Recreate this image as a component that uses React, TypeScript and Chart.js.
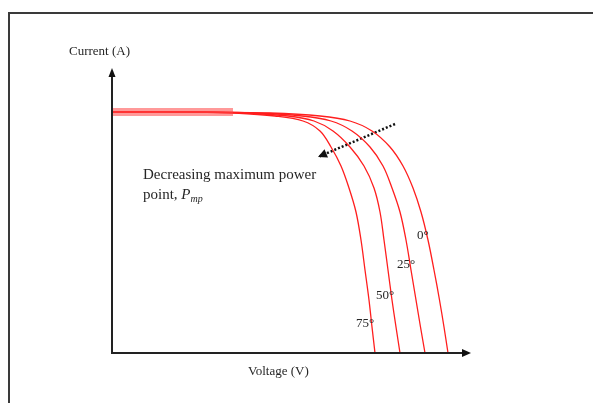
import React, { useEffect, useRef } from "react";
import { Chart, registerables } from "chart.js";

Chart.register(...registerables);

// Current levels (A, arbitrary units) shared by the four I-V curves
const currentLevels = [24.1, 24.1, 24.0, 23.7, 23.2, 22.2, 20.6, 18.7, 16.5, 14.1, 11.3, 8.3, 5.3, 2.6, 0];
// Voltage (V, arbitrary units) of each curve at those current levels
const volt0 = [0, 8.8, 15.8, 20.8, 23.8, 26.0, 27.8, 29.1, 30.1, 30.9, 31.6, 32.2, 32.75, 33.2, 33.6];
const volt25 = [0, 8.8, 14.3, 19.0, 21.9, 24.0, 25.8, 27.1, 28.0, 28.8, 29.4, 29.9, 30.4, 30.85, 31.3];
const volt50 = [0, 8.8, 13.3, 17.6, 20.2, 22.1, 23.8, 25.2, 26.2, 26.8, 27.2, 27.6, 28.0, 28.4, 28.8];
const volt75 = [0, 8.3, 12.3, 16.3, 19.1, 20.8, 21.9, 22.9, 23.7, 24.4, 24.9, 25.3, 25.7, 26.0, 26.3];
const curveLabels = ["0°", "25°", "50°", "75°"];
const bandV = [0, 12.1];
const bandI = [24.1, 24.1];
const arrowV = [28.3, 20.6];
const arrowI = [22.9, 19.6];
const xMax = 35.9;
const yMax = 28.5;

const toPts = (xs: number[], ys: number[]) => xs.map((x, i) => ({ x, y: ys[i] }));

const SERIF = '"Liberation Serif", "DejaVu Serif", serif';

const overlay = {
  id: "overlay",
  beforeDraw(chart: any) {
    const ctx = chart.ctx;
    ctx.save();
    ctx.fillStyle = "#ffffff";
    ctx.fillRect(0, 0, chart.width, chart.height);
    ctx.strokeStyle = "#3a3a3a";
    ctx.lineWidth = 2;
    ctx.beginPath();
    ctx.moveTo(9, chart.height + 5);
    ctx.lineTo(9, 13);
    ctx.lineTo(chart.width + 5, 13);
    ctx.stroke();
    ctx.restore();
  },
  afterDatasetsDraw(chart: any) {
    const ctx = chart.ctx;
    const xs = chart.scales.x;
    const ys = chart.scales.y;
    const a = chart.chartArea;
    const px = (v: number) => xs.getPixelForValue(v);
    const py = (v: number) => ys.getPixelForValue(v);
    ctx.save();
    // axes
    ctx.strokeStyle = "#222";
    ctx.fillStyle = "#111";
    ctx.lineWidth = 2;
    ctx.beginPath();
    ctx.moveTo(a.left, a.top + 4);
    ctx.lineTo(a.left, a.bottom);
    ctx.lineTo(a.right - 4, a.bottom);
    ctx.stroke();
    ctx.beginPath();
    ctx.moveTo(a.left, a.top);
    ctx.lineTo(a.left - 3.5, a.top + 9);
    ctx.lineTo(a.left + 3.5, a.top + 9);
    ctx.closePath();
    ctx.fill();
    ctx.beginPath();
    ctx.moveTo(a.right, a.bottom);
    ctx.lineTo(a.right - 9, a.bottom - 4);
    ctx.lineTo(a.right - 9, a.bottom + 4);
    ctx.closePath();
    ctx.fill();
    // dotted arrow head
    const x1 = px(arrowV[0]), y1 = py(arrowI[0]);
    const x2 = px(arrowV[1]), y2 = py(arrowI[1]);
    const ang = Math.atan2(y2 - y1, x2 - x1);
    ctx.beginPath();
    ctx.moveTo(x2, y2);
    ctx.lineTo(x2 - 9 * Math.cos(ang) + 4.5 * Math.sin(ang), y2 - 9 * Math.sin(ang) - 4.5 * Math.cos(ang));
    ctx.lineTo(x2 - 9 * Math.cos(ang) - 4.5 * Math.sin(ang), y2 - 9 * Math.sin(ang) + 4.5 * Math.cos(ang));
    ctx.closePath();
    ctx.fill();
    // texts
    ctx.fillStyle = "#262626";
    ctx.textBaseline = "middle";
    ctx.textAlign = "left";
    ctx.font = `13px ${SERIF}`;
    ctx.fillText("Current (A)", px(-4.3), py(30.1));
    ctx.fillText("Voltage (V)", px(13.6), py(-1.9));
    const labelPos = [
      [30.5, 11.7],
      [28.5, 8.8],
      [26.4, 5.7],
      [24.4, 2.9],
    ];
    curveLabels.forEach((t, i) => ctx.fillText(t, px(labelPos[i][0]), py(labelPos[i][1])));
    ctx.font = `15px ${SERIF}`;
    ctx.fillText("Decreasing maximum power", px(3.1), py(17.8));
    let tx = px(3.1);
    const ty = py(15.8);
    ctx.fillText("point, ", tx, ty);
    tx += ctx.measureText("point, ").width;
    ctx.font = `italic 15px ${SERIF}`;
    ctx.fillText("P", tx, ty);
    tx += ctx.measureText("P").width;
    ctx.font = `italic 10px ${SERIF}`;
    ctx.fillText("mp", tx, ty + 4);
    ctx.restore();
  },
};

export default function App() {
  const ref = useRef<HTMLCanvasElement | null>(null);
  useEffect(() => {
    document.body.style.margin = "0";
    const red = "rgb(255,30,30)";
    const lineDs = (label: string, xs: number[]) => ({
      label,
      data: toPts(xs, currentLevels),
      borderColor: red,
      borderWidth: 1.3,
      pointRadius: 0,
      showLine: true,
      tension: 0.35,
      clip: false as any,
    });
    const chart = new Chart(ref.current as HTMLCanvasElement, {
      type: "scatter",
      data: {
        datasets: [
          {
            label: "band",
            data: toPts(bandV, bandI),
            borderColor: "rgba(255,70,70,0.55)",
            borderWidth: 8,
            pointRadius: 0,
            showLine: true,
            clip: false as any,
          },
          lineDs("0°", volt0),
          lineDs("25°", volt25),
          lineDs("50°", volt50),
          lineDs("75°", volt75),
          {
            label: "arrow",
            data: toPts(arrowV, arrowI),
            borderColor: "#111",
            borderWidth: 2.5,
            borderDash: [2, 2],
            pointRadius: 0,
            showLine: true,
            clip: false as any,
          },
        ],
      },
      options: {
        responsive: false,
        animation: false,
        layout: { padding: { left: 112, top: 68, right: 122, bottom: 50 } },
        plugins: { legend: { display: false }, tooltip: { enabled: false } },
        scales: {
          x: { type: "linear", min: 0, max: xMax, display: false },
          y: { type: "linear", min: 0, max: yMax, display: false },
        },
      },
      plugins: [overlay],
    });
    return () => chart.destroy();
  }, []);
  return (
    <div style={{ width: 593, height: 403 }}>
      <canvas ref={ref} width={593} height={403} style={{ display: "block" }} />
    </div>
  );
}
